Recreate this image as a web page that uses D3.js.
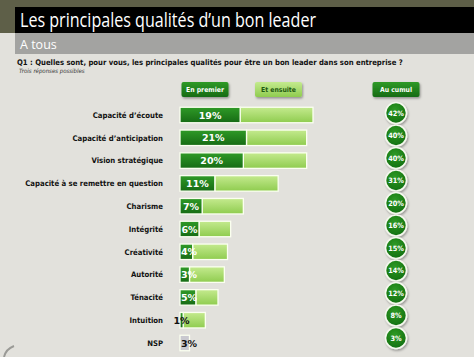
<!DOCTYPE html>
<html><head><meta charset="utf-8">
<script src="https://cdn.jsdelivr.net/npm/d3@7"></script>
<style>
html,body{margin:0;padding:0;background:#e2e1dc;}
svg{display:block;}
</style></head>
<body>
<script>
const categories = ["Capacité d’écoute","Capacité d’anticipation","Vision stratégique","Capacité à se remettre en question","Charisme","Intégrité","Créativité","Autorité","Ténacité","Intuition","NSP"];
const enPremier = [19,21,20,11,7,6,4,3,5,1,3];
const auCumul = [42,40,40,31,20,16,15,14,12,8,3];
const legendLabels = ["En premier","Et ensuite","Au cumul"];
const title = "Les principales qualités d’un bon leader";
const subtitle = "A tous";
const question = "Q1 : Quelles sont, pour vous, les principales qualités pour être un bon leader dans son entreprise ?";
const note = "Trois réponses possibles";

const W = 474, H = 357;
const svg = d3.select("body").append("svg").attr("width", W).attr("height", H);
const defs = svg.append("defs");

const gDark = defs.append("linearGradient").attr("id","gDark").attr("x1",0).attr("y1",0).attr("x2",0).attr("y2",1);
gDark.append("stop").attr("offset","0%").attr("stop-color","#2f9a27");
gDark.append("stop").attr("offset","100%").attr("stop-color","#166b14");
const gLight = defs.append("linearGradient").attr("id","gLight").attr("x1",0).attr("y1",0).attr("x2",0).attr("y2",1);
gLight.append("stop").attr("offset","0%").attr("stop-color","#c4ea8e");
gLight.append("stop").attr("offset","100%").attr("stop-color","#8fcc4f");
const gCirc = defs.append("radialGradient").attr("id","gCirc").attr("cx","45%").attr("cy","35%").attr("r","65%");
gCirc.append("stop").attr("offset","0%").attr("stop-color","#2e9a26");
gCirc.append("stop").attr("offset","100%").attr("stop-color","#13700f");
const sh = defs.append("filter").attr("id","sh").attr("x","-30%").attr("y","-30%").attr("width","160%").attr("height","170%");
sh.append("feDropShadow").attr("dx",1).attr("dy",1.5).attr("stdDeviation",1).attr("flood-color","#000").attr("flood-opacity",0.35);

// background frame
svg.append("rect").attr("width",W).attr("height",H).attr("fill","#e2e1dc");
svg.append("rect").attr("x",0).attr("y",0).attr("width",W).attr("height",7).attr("fill","#5e5f48");
svg.append("rect").attr("x",0).attr("y",0).attr("width",15).attr("height",33).attr("fill","#5e5f48");
svg.append("rect").attr("x",15).attr("y",7).attr("width",W-15).attr("height",26).attr("fill","#000");
svg.append("text").attr("x",20).attr("y",27).attr("fill","#fff")
  .attr("font-family","'Open Sans', sans-serif").attr("font-size",19.5)
  .attr("textLength",296).attr("lengthAdjust","spacingAndGlyphs").text(title);
svg.append("rect").attr("x",15).attr("y",33).attr("width",W-15).attr("height",21).attr("fill","#a3a3a1");
svg.append("text").attr("x",20).attr("y",49).attr("fill","#fff")
  .attr("font-family","'Open Sans', sans-serif").attr("font-size",12.5).text(subtitle);
svg.append("text").attr("x",17).attr("y",65).attr("fill","#111")
  .attr("font-family","'DejaVu Sans Condensed','DejaVu Sans',sans-serif").attr("font-weight","bold").attr("font-size",7.65)
  .text(question);
svg.append("text").attr("x",19).attr("y",73).attr("fill","#333")
  .attr("font-family","'DejaVu Sans Condensed','DejaVu Sans',sans-serif").attr("font-style","italic").attr("font-size",6)
  .text(note);

// scales
const x = d3.scaleLinear().domain([0,42]).range([180,313]);
const y = d3.scalePoint().domain(categories).range([115,343]);
const yc = d3.scalePoint().domain(categories).range([113,338]);
const barH = 15.5;
const circleX = 396;

const data = categories.map((c,i)=>({cat:c, premier:enPremier[i], cumul:auCumul[i]}));

// legend buttons
const legend = [
  {label:legendLabels[0], cx:205, fill:"url(#gDark)", color:"#fff"},
  {label:legendLabels[1], cx:278.5, fill:"url(#gLight)", color:"#1f5a12"},
  {label:legendLabels[2], cx:circleX, fill:"url(#gDark)", color:"#fff"}
];
const lg = svg.append("g").selectAll("g").data(legend).join("g");
lg.append("rect").attr("x",d=>d.cx-23.5).attr("y",82).attr("width",47).attr("height",15).attr("rx",2)
  .attr("fill",d=>d.fill).attr("filter","url(#sh)");
lg.append("text").attr("x",d=>d.cx).attr("y",92.3).attr("text-anchor","middle").attr("fill",d=>d.color)
  .attr("font-family","'DejaVu Sans Condensed','DejaVu Sans',sans-serif").attr("font-weight","bold").attr("font-size",6.8)
  .text(d=>d.label);

// category labels
svg.append("g").selectAll("text").data(data).join("text")
  .attr("x",163).attr("y",d=>y(d.cat)+2.8).attr("text-anchor","end").attr("fill","#111")
  .attr("font-family","'DejaVu Sans Condensed','DejaVu Sans',sans-serif").attr("font-weight","bold").attr("font-size",7.7)
  .text(d=>d.cat);

// bars
const bars = svg.append("g").selectAll("g").data(data).join("g");
bars.filter(d=>d.cumul>d.premier).append("rect")
  .attr("x",d=>x(d.premier)).attr("y",d=>y(d.cat)-barH/2)
  .attr("width",d=>x(d.cumul)-x(d.premier)).attr("height",barH)
  .attr("fill","url(#gLight)").attr("stroke","#fbfff0").attr("stroke-width",1.3);
bars.append("rect")
  .attr("x",x(0)).attr("y",d=>y(d.cat)-barH/2)
  .attr("width",d=>x(d.premier)-x(0)).attr("height",barH)
  .attr("fill",d=>d.cumul===d.premier?"#c9c9cf":"url(#gDark)")
  .attr("stroke","#fbfff0").attr("stroke-width",1.3);
const labelW = 16;
bars.append("text")
  .attr("x",d=>{
    const c = (x(0)+x(d.premier))/2;
    if (d.premier < 2) return c;               // tiny value: label straddles the axis
    return Math.max(c, x(0) + 1 + labelW/2);    // keep label from spilling left of the bar
  })
  .attr("y",d=>y(d.cat)+3.6)
  .attr("text-anchor","middle")
  .attr("fill",d=>(d.cumul===d.premier||d.premier<2)?"#111":"#fff")
  .attr("font-family","'DejaVu Sans','Verdana',sans-serif").attr("font-weight","bold").attr("font-size",9.5)
  .text(d=>d.premier+"%");

// cumul circles
const circ = svg.append("g").selectAll("g").data(data).join("g");
circ.append("circle").attr("cx",circleX).attr("cy",d=>yc(d.cat)).attr("r",10.5)
  .attr("fill","url(#gCirc)").attr("stroke","#f4f8ee").attr("stroke-width",1.6).attr("filter","url(#sh)");
circ.append("text").attr("x",circleX).attr("y",d=>yc(d.cat)+2.6).attr("text-anchor","middle").attr("fill","#fff")
  .attr("font-family","'DejaVu Sans Condensed','DejaVu Sans',sans-serif").attr("font-weight","bold").attr("font-size",7.3)
  .text(d=>d.cumul+"%");

// decorative corner curl
svg.append("path").attr("d","M4,357 Q6,349 14,346").attr("fill","none").attr("stroke","#9a9a96").attr("stroke-width",2);
</script>
</body></html>
